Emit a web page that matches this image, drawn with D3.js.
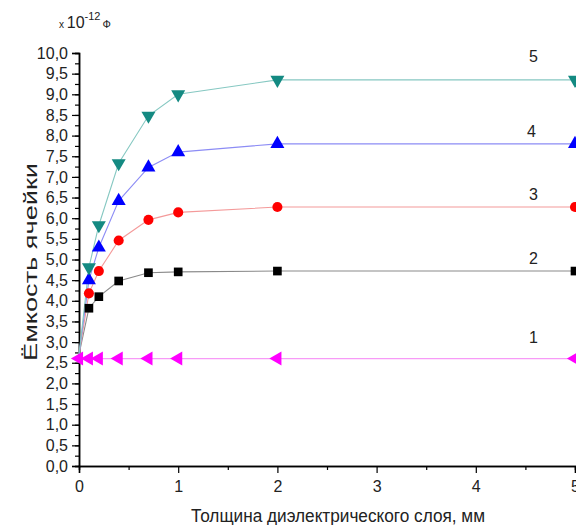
<!DOCTYPE html>
<html><head><meta charset="utf-8">
<script src="https://cdn.jsdelivr.net/npm/d3@7"></script>
<style>body{margin:0;background:#fff}svg{display:block}text{font-family:"Liberation Sans",Arial,sans-serif;fill:#222}</style>
</head><body><svg id="c" width="576" height="525"></svg>
<script>
const thickness = [0, 0.1, 0.2, 0.4, 0.7, 1, 2, 5];
const series1 = [2.6, 2.6, 2.6, 2.6, 2.6, 2.6, 2.6, 2.6];
const series2 = [2.7, 3.82, 4.10, 4.48, 4.68, 4.70, 4.72, 4.72];
const series3 = [2.7, 4.18, 4.72, 5.46, 5.96, 6.14, 6.27, 6.27];
const series4 = [2.7, 4.50, 5.29, 6.42, 7.23, 7.60, 7.80, 7.80];
const series5 = [2.7, 4.81, 5.83, 7.33, 8.48, 9.00, 9.35, 9.35];
const seriesLabels = ["1", "2", "3", "4", "5"];
const labelX = [4.58, 4.58, 4.58, 4.56, 4.58];
const labelY = [2.99, 4.89, 6.43, 7.97, 9.77];
const xTicks = [0, 1, 2, 3, 4, 5];
const yTicks = [0,0.5,1,1.5,2,2.5,3,3.5,4,4.5,5,5.5,6,6.5,7,7.5,8,8.5,9,9.5,10];

const svg = d3.select("#c");
const x = d3.scaleLinear().domain([0,5]).range([79,575]);
const y = d3.scaleLinear().domain([0,10]).range([466,53]);

const series = [
  {vals: series2, color:"#000000", line:"#8a8a8a", sym:d3.symbolSquare, rot:0, size:75, li:1},
  {vals: series3, color:"#ff0000", line:"#f49a9a", sym:d3.symbolCircle, rot:0, size:80, li:2},
  {vals: series4, color:"#0000ff", line:"#8c8cf5", sym:d3.symbolTriangle, rot:0, size:85, li:3},
  {vals: series5, color:"#148a82", line:"#86c8c2", sym:d3.symbolTriangle, rot:180, size:85, li:4},
  {vals: series1, color:"#ff00ff", line:"#f79af7", sym:d3.symbolTriangle, rot:-90, size:85, li:0, first:true}
];

// axes
const yAxisMinor = d3.axisLeft(y).tickValues(d3.range(0,10.01,0.25)).tickSize(4).tickFormat("");
const yAxis = d3.axisLeft(y).tickValues(yTicks).tickSize(7).tickPadding(4)
  .tickFormat(d => d3.format(".1f")(d).replace(".", ","));
const xAxisMinor = d3.axisBottom(x).tickValues(d3.range(0.5,5,1)).tickSize(4).tickFormat("");
const xAxis = d3.axisBottom(x).tickValues(xTicks).tickSize(7).tickPadding(8).tickFormat(d3.format("d"));

function style(g){
  g.select(".domain").attr("stroke","#000").attr("stroke-width",1.5);
  g.selectAll(".tick line").attr("stroke","#000").attr("stroke-width",1.2);
  g.selectAll("text").attr("font-size",16).attr("fill","#222").attr("font-family",'"Liberation Sans",Arial,sans-serif');
}
svg.append("g").attr("transform","translate(79,0)").call(yAxisMinor).call(style);
svg.append("g").attr("transform","translate(79,0)").call(yAxis).call(style);
svg.append("g").attr("transform","translate(0,466)").call(xAxisMinor).call(style);
svg.append("g").attr("transform","translate(0,466)").call(xAxis).call(style);

// lines & markers
const line = d3.line().x(d=>x(d[0])).y(d=>y(d[1]));
series.forEach(s => {
  const pts = thickness.map((t,i)=>[t, s.vals[i]]);
  svg.append("path").datum(pts).attr("d", line).attr("fill","none")
    .attr("stroke", s.line).attr("stroke-width",1.1);
});
series.forEach(s => {
  const pts = thickness.map((t,i)=>[t, s.vals[i]]).filter(p => s.first || p[0] > 0);
  svg.append("g").selectAll("path").data(pts).join("path")
    .attr("d", d3.symbol().type(s.sym).size(s.size))
    .attr("transform", d => `translate(${x(d[0])},${y(d[1])}) rotate(${s.rot})`)
    .attr("fill", s.color);
  svg.append("text").attr("x", x(labelX[s.li])).attr("y", y(labelY[s.li]))
    .attr("text-anchor","middle").attr("font-size",16).text(seriesLabels[s.li]);
});

// axis titles
svg.append("text").attr("transform","translate(37,262) rotate(-90)")
  .attr("text-anchor","middle").attr("font-size",18)
  .attr("textLength",198).attr("lengthAdjust","spacingAndGlyphs")
  .text("Ёмкость ячейки");
svg.append("text").attr("x",338).attr("y",522).attr("text-anchor","middle")
  .attr("font-size",17.5).attr("textLength",294).attr("lengthAdjust","spacingAndGlyphs")
  .text("Толщина диэлектрического слоя, мм");

// multiplier
const m = svg.append("text").attr("x",59).attr("y",28);
m.append("tspan").attr("font-size",10).text("x ");
m.append("tspan").attr("font-size",16).text("10");
m.append("tspan").attr("font-size",11).attr("dy",-8).text("-12");
m.append("tspan").attr("font-size",11).attr("dy",8).attr("dx",2).text("Ф");
</script></body></html>
